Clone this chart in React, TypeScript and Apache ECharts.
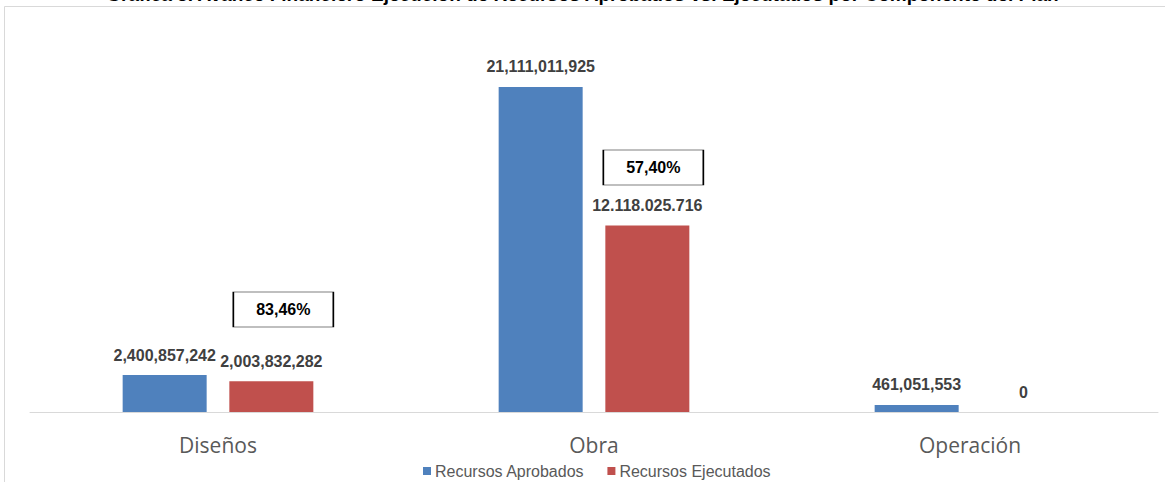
import React, { useEffect, useRef } from "react";
import * as echarts from "echarts";

const categories = ["Diseños", "Obra", "Operación"];
const seriesNames = ["Recursos Aprobados", "Recursos Ejecutados"];
const approved = [2400857242, 21111011925, 461051553];
const executed = [2003832282, 12118025716, 0];
const approvedLabels = ["2,400,857,242", "21,111,011,925", "461,051,553"];
const executedLabels = ["2,003,832,282", "12.118.025.716", "0"];
const pctLabels = ["83,46%", "57,40%"];
const pctCategories = ["Diseños", "Obra"];
const pctAnchors = [6.66e9, 15.88e9];
const titleText =
  "Gráfica 3. Avance Financiero Ejecución de Recursos Aprobados vs. Ejecutados por Componente del Plan";

export default function App() {
  const ref = useRef<HTMLDivElement>(null);
  useEffect(() => {
    if (!ref.current) return;
    const chart = echarts.init(ref.current, undefined, { renderer: "svg" });
    const labelStyle = {
      show: true,
      position: "top" as const,
      distance: 12,
      color: "#404040",
      fontFamily: "Liberation Sans, Arial, sans-serif",
      fontWeight: "bold" as const,
      fontSize: 16,
    };
    chart.setOption({
      animation: false,
      backgroundColor: "#ffffff",
      title: {
        text: titleText,
        left: "center",
        top: -20,
        textStyle: {
          fontFamily: "Liberation Sans, Arial, sans-serif",
          fontSize: 19,
          fontWeight: "bold",
          color: "#000000",
        },
      },
      graphic: [
        {
          type: "line",
          shape: { x1: 4.5, y1: 6.5, x2: 4.5, y2: 482 },
          style: { stroke: "#d9d9d9", lineWidth: 1 },
          silent: true,
        },
        {
          type: "line",
          shape: { x1: 4.5, y1: 6.5, x2: 1165, y2: 6.5 },
          style: { stroke: "#d9d9d9", lineWidth: 1 },
          silent: true,
        },
      ],
      legend: {
        bottom: -2,
        left: 418,
        icon: "rect",
        itemWidth: 8,
        itemHeight: 8,
        itemGap: 23,
        textStyle: {
          fontFamily: "Liberation Sans, Arial, sans-serif",
          fontSize: 16,
          color: "#595959",
          padding: [0, 0, 0, -1],
        },
        data: seriesNames,
      },
      grid: { left: 30, right: 7, top: 27, bottom: 70, containLabel: false },
      xAxis: {
        type: "category",
        data: categories,
        axisLine: { lineStyle: { color: "#d9d9d9", width: 1 } },
        axisTick: { show: false },
        axisLabel: {
          margin: 22,
          fontFamily: "Open Sans, sans-serif",
          fontSize: 21,
          color: "#595959",
        },
      },
      yAxis: {
        type: "value",
        min: 0,
        max: 25e9,
        show: false,
        splitLine: { show: false },
      },
      series: [
        {
          name: seriesNames[0],
          type: "bar",
          data: approved,
          barWidth: 84,
          barGap: "27%",
          itemStyle: { color: "#4f81bd" },
          label: {
            ...labelStyle,
            formatter: (p: any) => approvedLabels[p.dataIndex],
          },
        },
        {
          name: seriesNames[1],
          type: "bar",
          data: executed,
          barWidth: 84,
          barGap: "27%",
          itemStyle: { color: "#c0504d" },
          label: {
            ...labelStyle,
            formatter: (p: any) => executedLabels[p.dataIndex],
          },
          markPoint: {
            symbol: "rect",
            symbolSize: [100, 35],
            itemStyle: { color: "#ffffff", borderColor: "#000000", borderWidth: 1 },
            label: {
              show: true,
              position: "inside",
              color: "#000000",
              fontFamily: "Liberation Sans, Arial, sans-serif",
              fontWeight: "bold",
              fontSize: 16,
              formatter: (p: any) => pctLabels[p.dataIndex],
            },
            data: pctLabels.map((t, i) => ({
              name: t,
              coord: [pctCategories[i], pctAnchors[i]],
              symbolOffset: [i === 0 ? 12 : 6, 0],
            })),
          },
        },
      ],
    });
    return () => chart.dispose();
  }, []);
  return (
    <div
      ref={ref}
      style={{ position: "absolute", left: 0, top: 0, width: 1165, height: 482 }}
    />
  );
}
